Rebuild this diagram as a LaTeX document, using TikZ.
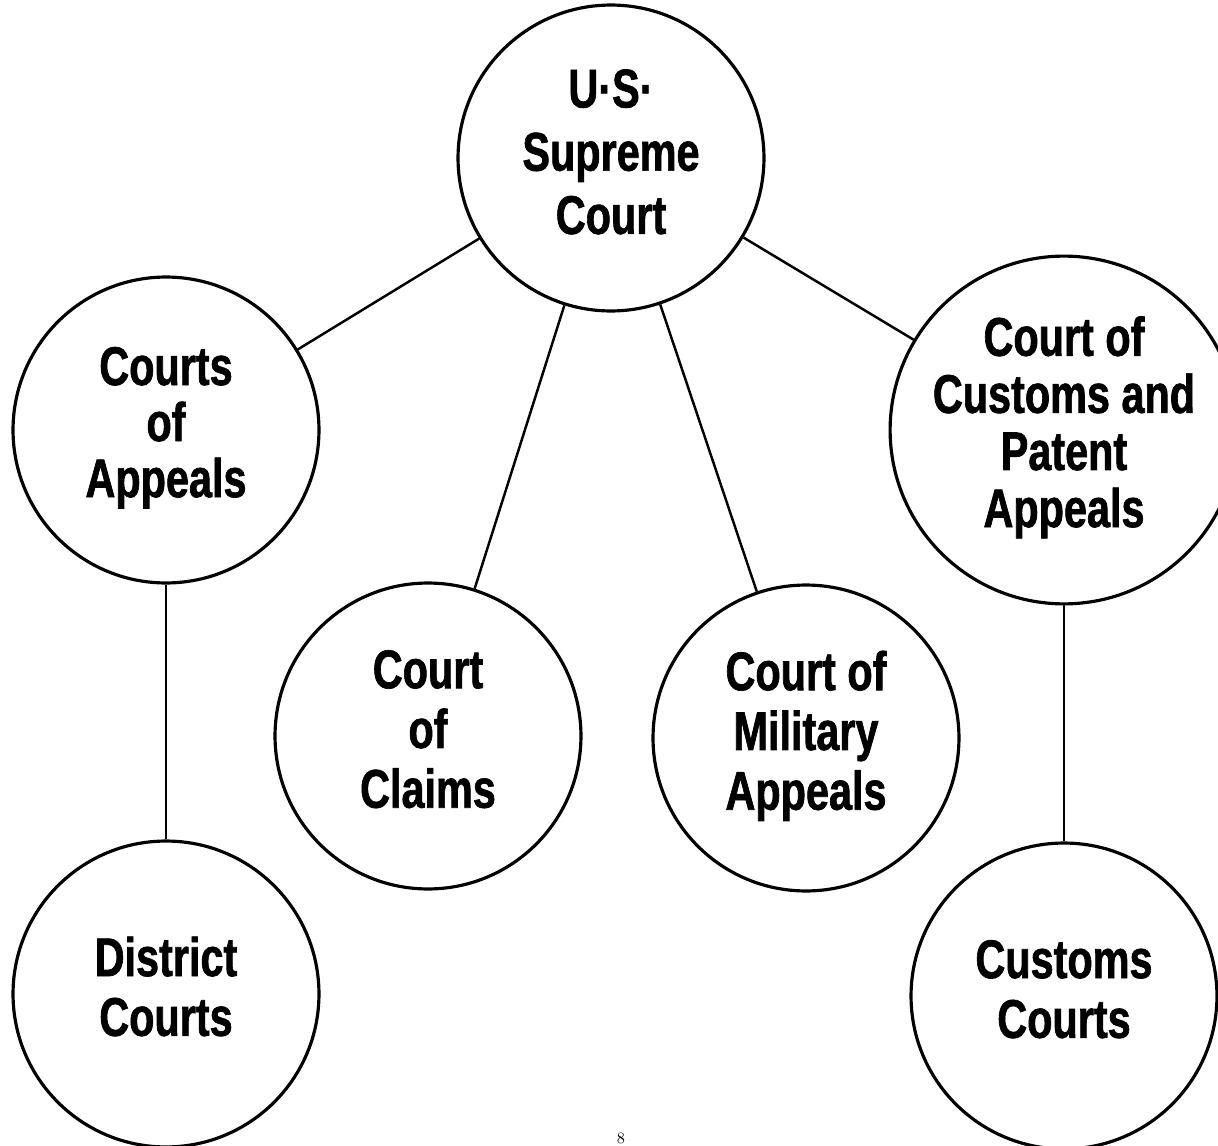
\documentclass[tikz,border=0pt]{standalone}
\usepackage{fontspec}
\newfontfamily\courtfont{Liberation Sans}[UprightFont=* Bold, FakeStretch=0.76, FakeBold=1.2]
\newcommand{\ctext}[1]{\begin{tabular}{@{}c@{}}#1\end{tabular}}
\tikzset{
  court/.style={circle, draw, line width=1.8pt, minimum size=6.12cm, inner sep=0pt,
    font=\courtfont\fontsize{31}{34}\selectfont},
  conn/.style={line width=1.4pt}
}
\begin{document}
\begin{tikzpicture}[x=0.02cm, y=-0.02cm]
\useasboundingbox (0,0) rectangle (1218,1146);
\node[court, font=\courtfont\fontsize{31}{36}\selectfont] (sc) at (611,158) {\ctext{U·S·\\Supreme\\Court}};
\node[court, font=\courtfont\fontsize{31}{31.5}\selectfont] (ca) at (166,430) {\ctext{Courts\\of\\Appeals}};
\node[court, font=\courtfont\fontsize{31}{32.5}\selectfont] (ccpa) at (1064,430) {\ctext{Court of\\Customs and\\Patent\\Appeals}};
\node[court] (cc) at (428,736) {\ctext{Court\\of\\Claims}};
\node[court] (cma) at (806,738) {\ctext{Court of\\Military\\Appeals}};
\node[court] (dc) at (166,994) {\ctext{District\\Courts}};
\node[court] (cust) at (1064,996) {\ctext{Customs\\Courts}};
\node[font=\fontsize{9}{10}\selectfont, anchor=north, inner sep=0pt] (pg) at (621,1133) {8};
\draw[conn] (sc) -- (ca);
\draw[conn] (sc) -- (cc);
\draw[conn] (sc) -- (cma);
\draw[conn] (sc) -- (ccpa);
\draw[conn] (ca) -- (dc);
\draw[conn] (ccpa) -- (cust);
\end{tikzpicture}
\end{document}
